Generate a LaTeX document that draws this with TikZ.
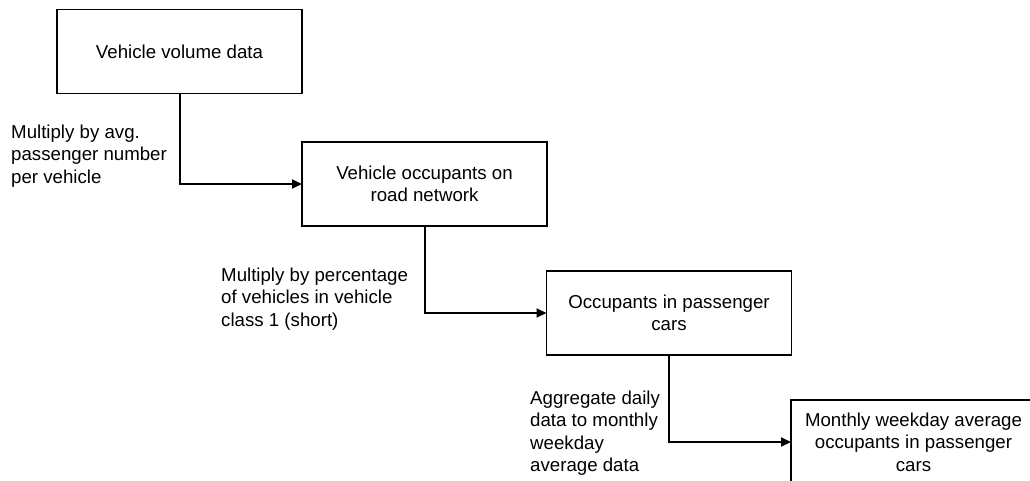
\documentclass[tikz,border=0pt]{standalone}
\usepackage{fontspec}
\setmainfont{Liberation Sans}
\usetikzlibrary{arrows.meta}
\newcommand\diafont{\fontsize{18.67}{22.4}\selectfont}
\begin{document}
\begin{tikzpicture}[x=1pt,y=-1pt,
  box/.style={draw, line width=1.3pt, minimum width=245pt, minimum height=84pt,
              align=center, inner sep=0pt, outer sep=0pt, font=\diafont},
  lbl/.style={align=left, inner sep=0pt, anchor=west, font=\diafont},
  conn/.style={line width=2pt, -{Triangle[length=10pt,width=9pt]}}]
\useasboundingbox (0,0) rectangle (1030,480);
\clip (0,0) rectangle (1030,480);
\fill[white] (0,0) rectangle (1030,480);

\node[box] (b1) at (179.5,51.5) {Vehicle volume data};
\node[box] (b2) at (424.5,184) {Vehicle occupants on\\road network};
\node[box] (b3) at (669,313) {Occupants in passenger\\cars};
\node[box] (b4) at (913.5,442) {Monthly weekday average\\occupants in passenger\\cars};

\draw[conn] (b1.south) |- (b2.west);
\draw[conn] (b2.south) |- (b3.west);
\draw[conn] (b3.south) |- (b4.west);

\node[lbl] (l1) at (11,156) {Multiply by avg.\\passenger number\\per vehicle};
\node[lbl] (l2) at (221,299) {Multiply by percentage\\of vehicles in vehicle\\class 1 (short)};
\node[lbl] (l3) at (530,433) {Aggregate daily\\data to monthly\\weekday\\average data};
\end{tikzpicture}
\end{document}
